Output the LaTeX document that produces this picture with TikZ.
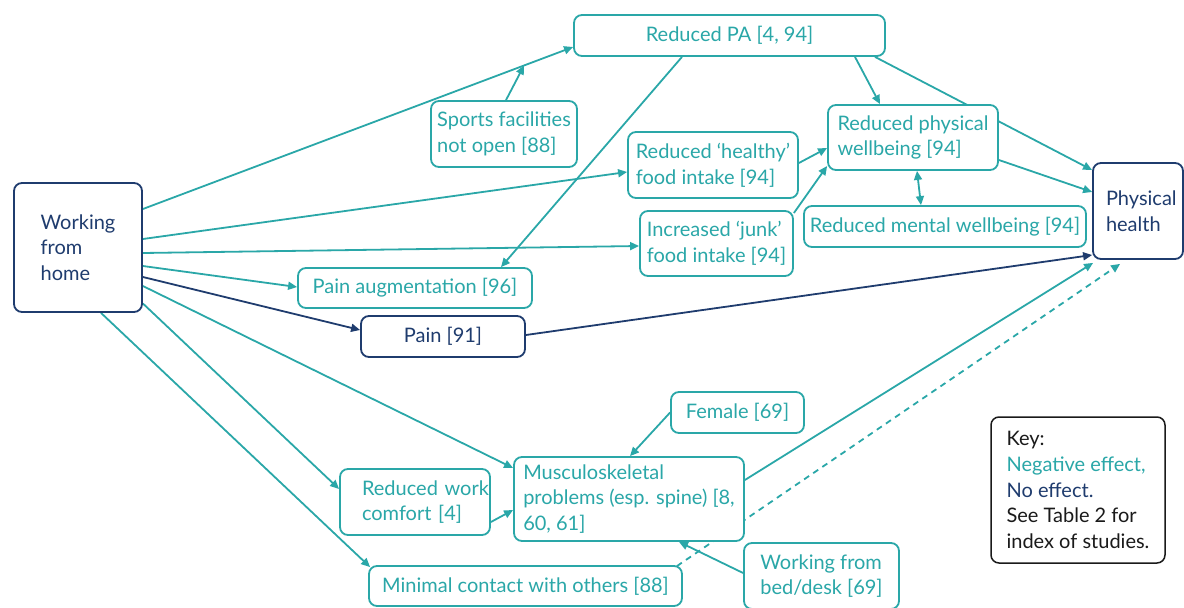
\documentclass[tikz,border=0pt]{standalone}
\usepackage{fontspec}
\setmainfont{Lato}
\usetikzlibrary{arrows.meta,backgrounds}
\definecolor{negteal}{HTML}{2AA7A8}
\definecolor{noeff}{HTML}{1F3C6E}
\definecolor{keyline}{HTML}{1A1A1A}
\tikzset{box/.style={draw,fill=white,rounded corners=8pt,line width=1.8pt,align=left,
           inner sep=0pt,font=\fontsize{20}{25.6}\selectfont},
         negbox/.style={box,draw=negteal,text=negteal},
         nobox/.style={box,draw=noeff,text=noeff},
         negline/.style={draw=negteal,line width=1.8pt,->},
         noline/.style={draw=noeff,line width=1.8pt,->},
         }
\begin{document}
\begin{tikzpicture}[x=1pt,y=-1pt,>={Triangle[length=9pt,width=8pt]}]
\useasboundingbox (0,0) rectangle (1184,608);
\node[nobox,minimum width=128,minimum height=129] (home) at (78,247.5) {Working\\from\\home};
\node[negbox,minimum width=311,minimum height=41] (pa) at (729.5,35.5) {Reduced PA [4, 94]};
\node[negbox,minimum width=146,minimum height=66] (sports) at (504,134) {Sports facilities\\not open [88]};
\node[negbox,minimum width=170,minimum height=66] (healthy) at (713,165) {Reduced ‘healthy’\\food intake [94]};
\node[negbox,minimum width=170,minimum height=65] (physwb) at (913,137.5) {Reduced physical\\wellbeing [94]};
\node[negbox,minimum width=282,minimum height=41] (mentalwb) at (945,226.5) {Reduced mental wellbeing [94]};
\node[negbox,minimum width=153,minimum height=65] (junk) at (716.5,243.5) {Increased ‘junk’\\food intake [94]};
\node[nobox,minimum height=96,inner xsep=13pt,text width=64pt] (ph) at (1138,211) {Physical\\health};
\node[negbox,minimum width=234,minimum height=40] (painaug) at (415,288) {Pain augmentation [96]};
\node[nobox,minimum width=164,minimum height=41] (pain) at (443,336.5) {Pain [91]};
\node[negbox,minimum width=133,minimum height=41] (female) at (737.5,412.5) {Female [69]};
\node[negbox,minimum height=66,inner xsep=22pt,text width=106pt] (comfort) at (415,502) {Reduced~work\\comfort [4]};
\node[negbox,minimum width=230,minimum height=84] (msk) at (629,499) {Musculoskeletal\\problems (esp. spine) [8,\\60, 61]};
\node[negbox,minimum width=313,minimum height=40] (minimal) at (525.5,586) {Minimal contact with others [88]};
\node[negbox,minimum width=155,minimum height=66] (wfbd) at (821.5,576) {Working from\\bed/desk [69]};
\node[box,draw=keyline,text=keyline,line width=1.5pt,minimum width=174,minimum height=146] (key) at (1078,490)
  {Key:\\\textcolor{negteal}{Negative effect,}\\\textcolor{noeff}{No effect.}\\See Table 2 for\\index of studies.};
\begin{scope}[on background layer]
\draw[negline] ([yshift=38.5]home.east) -- coordinate[pos=0.886] (pahit) ([yshift=-11.5]pa.west);
\draw[negline] ([xshift=2]sports.north) -- (pahit);
\draw[negline] ([yshift=8.5]home.east) -- ([yshift=-7]healthy.west);
\draw[negline] ([yshift=-5.5]home.east) -- ([yshift=-2.5]junk.west);
\draw[negline] ([yshift=-18.5]home.east) -- ([yshift=1]painaug.west);
\draw[negline] ([xshift=-47.5]pa.south) -- ([xshift=86]painaug.north);
\draw[noline] ([yshift=-29.5]home.east) -- ([yshift=6.5]pain.west);
\draw[noline] ([yshift=1.5]pain.east) -- ([yshift=-44]ph.west);
\draw[negline] ([yshift=-38.5]home.east) -- ([yshift=31]msk.west);
\draw[negline] ([yshift=-56]home.east) -- ([yshift=13]comfort.west);
\draw[negline] ([xshift=23]home.south) -- ([xshift=2,yshift=-2]minimal.north west);
\draw[negline] ([yshift=-20]comfort.east) -- ([yshift=-11]msk.west);
\draw[negline] (female.west) -- ([xshift=1]msk.north);
\draw[negline] ([yshift=3]wfbd.west) -- ([xshift=50]msk.south);
\draw[negline] ([yshift=19]msk.east) -- ([xshift=1,yshift=-3]ph.south west);
\draw[negline,dash pattern=on 6pt off 5pt] ([xshift=-6,yshift=-1]minimal.north east) -- ([xshift=28,yshift=-4]ph.south west);
\draw[negline] ([xshift=125.5]pa.south) -- ([xshift=-33]physwb.north);
\draw[negline] ([xshift=145.5]pa.south) -- ([yshift=41]ph.west);
\draw[negline] ([yshift=-22.5]physwb.east) -- ([yshift=19]ph.west);
\draw[negline] ([yshift=2]healthy.east) -- ([yshift=-10.5]physwb.west);
\draw[negline] ([yshift=30.5]junk.east) -- ([yshift=-28.5]physwb.west);
\draw[negline,<->] ([xshift=4]physwb.south) -- ([xshift=-24]mentalwb.north);
\end{scope}
\end{tikzpicture}
\end{document}
